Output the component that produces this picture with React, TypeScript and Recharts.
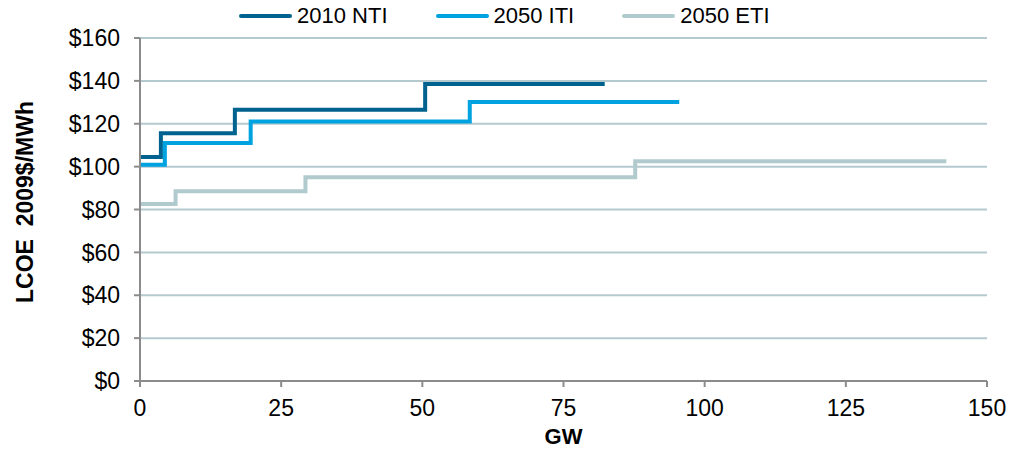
import { LineChart, Line, XAxis, YAxis, CartesianGrid } from 'recharts'

// supply curves: GW (step start) -> $/MWh
const ntiGw = [0, 3.7, 16.8, 50.5, 82.3]
const ntiCost = [104.5, 115.6, 126.5, 138.5, 138.5]
const itiGw = [0, 4.4, 19.6, 58.4, 95.5]
const itiCost = [100.9, 111, 121, 130.2, 130.2]
const etiGw = [0, 6.3, 29.3, 87.7, 142.8]
const etiCost = [82.6, 88.5, 95, 102.5, 102.5]

const xTicks = [0, 25, 50, 75, 100, 125, 150]
const yTicks = [0, 20, 40, 60, 80, 100, 120, 140, 160]

const series = [
  { name: '2010 NTI', color: '#00628f', gw: ntiGw, cost: ntiCost },
  { name: '2050 ITI', color: '#00a3e0', gw: itiGw, cost: itiCost },
  { name: '2050 ETI', color: '#b1cace', gw: etiGw, cost: etiCost },
]

const font = '"Liberation Sans", Arial, sans-serif'

function TopLegend() {
  return (
    <div style={{ position: 'absolute', left: 239, top: 4, display: 'flex', gap: 48, fontFamily: font, fontSize: 22, color: '#000', lineHeight: '24px' }}>
      {series.map((s) => (
        <div key={s.name} style={{ display: 'flex', alignItems: 'center' }}>
          <div style={{ width: 53, height: 4, borderRadius: 2, background: s.color, marginRight: 5 }} />
          <span>{s.name}</span>
        </div>
      ))}
    </div>
  )
}

function YLabel() {
  return (
    <text
      x={25}
      y={202}
      transform='rotate(-90 25 202)'
      textAnchor='middle'
      dominantBaseline='central'
      fontFamily={font}
      fontSize={23}
      fontWeight='bold'
      fill='#000'
      style={{ whiteSpace: 'pre' }}
    >
      LCOE  2009$/MWh
    </text>
  )
}

export default function App() {
  return (
    <div style={{ position: 'absolute', left: 0, top: 0, width: 1010, height: 452, background: '#fff' }}>
      <LineChart width={1010} height={452} margin={{ top: 38, right: 23, bottom: 0, left: 0 }}>
        <CartesianGrid horizontal vertical={false} stroke='#b4cacf' strokeWidth={2} />
        <XAxis
          type='number'
          dataKey='gw'
          domain={[0, 150]}
          ticks={xTicks}
          allowDuplicatedCategory={false}
          stroke='#8c8c8c'
          strokeWidth={2}
          tickSize={6}
          tick={{ fill: '#000', fontSize: 23, fontFamily: font }}
          tickMargin={13}
          label={{ value: 'GW', position: 'insideBottom', offset: 8, fill: '#000', fontSize: 22, fontWeight: 'bold', fontFamily: font }}
          height={71}
        />
        <YAxis
          type='number'
          domain={[0, 160]}
          ticks={yTicks}
          width={140}
          stroke='#8c8c8c'
          strokeWidth={2}
          tickSize={6}
          tickMargin={14}
          tickFormatter={(v) => `$${v}`}
          tick={{ fill: '#000', fontSize: 23, fontFamily: font }}
          label={<YLabel />}
        />
        {series.map((s) => (
          <Line
            key={s.name}
            name={s.name}
            data={s.gw.map((g, i) => ({ gw: g, cost: s.cost[i] }))}
            dataKey='cost'
            type='stepAfter'
            stroke={s.color}
            strokeWidth={4}
            dot={false}
            isAnimationActive={false}
          />
        ))}
      </LineChart>
      <TopLegend />
    </div>
  )
}
